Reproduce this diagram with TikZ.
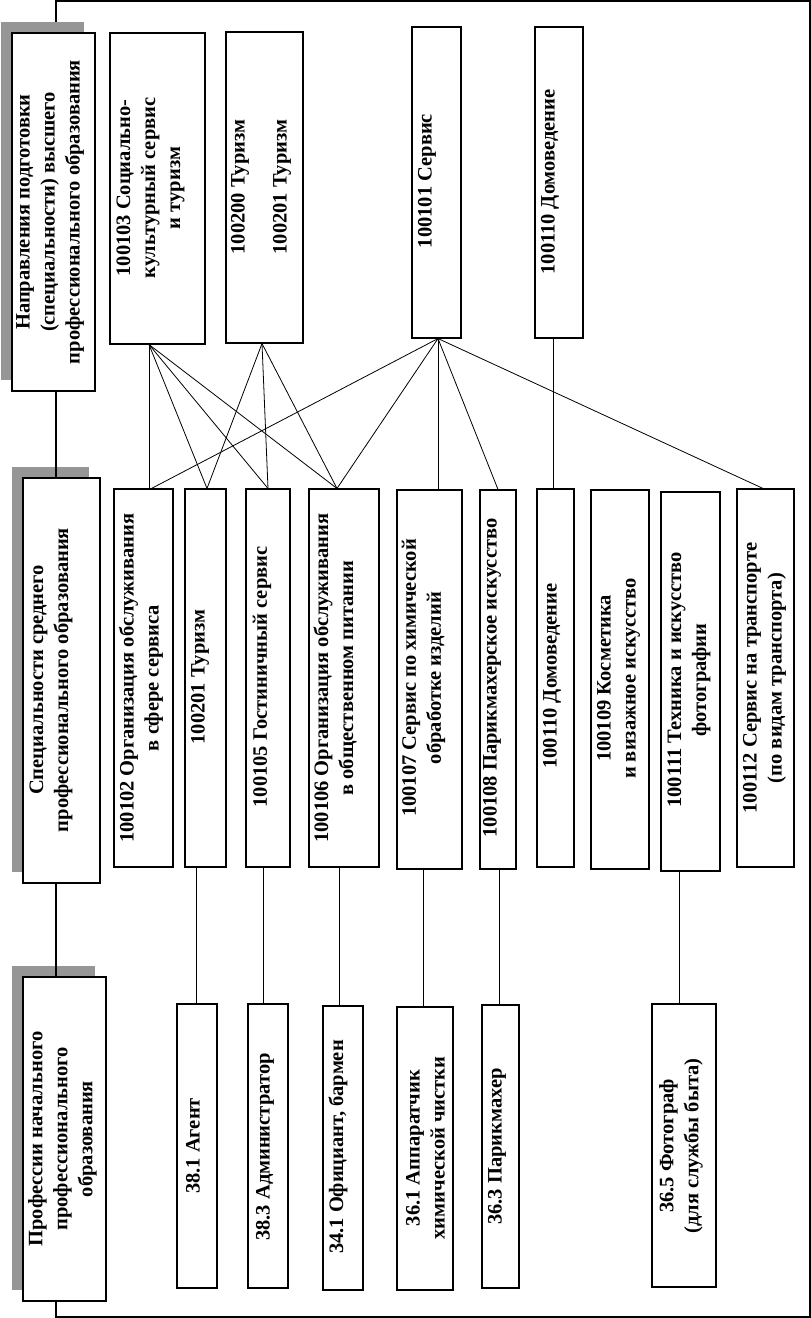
\documentclass[tikz,border=0pt]{standalone}
\usepackage{fontspec}
\setmainfont{Liberation Serif}
\usetikzlibrary{shadows}
\definecolor{shadowgray}{RGB}{150,150,150}
\begin{document}
\begin{tikzpicture}[x=1pt,y=-1pt,
  box/.style={draw, line width=1.1pt, fill=white, inner sep=0pt},
  hbox/.style={box, drop shadow={shadow xshift=-11pt, shadow yshift=11pt, fill=shadowgray, opacity=1}},
  txt/.style={rotate=90, font=\bfseries\fontsize{20.5}{25}\selectfont, align=center, inner sep=0pt},
  link/.style={line width=0.8pt}]
\useasboundingbox (0,0) rectangle (811,1318);
% outer frame
\draw[line width=1.1pt] (56,1) rectangle (810,1317);
% header boxes
\node[hbox, minimum width=83pt, minimum height=358pt] (h1) at (53.5,212) {};
\node[hbox, minimum width=77pt, minimum height=405pt] (h2) at (61.5,680.5) {};
\node[hbox, minimum width=83pt, minimum height=324pt] (h3) at (64.5,1139) {};
\node[txt] (h1t) at (50,212) {Направления подготовки\\(специальности) высшего\\профессионального образования};
\node[txt] (h2t) at (51,680) {Специальности среднего\\профессионального образования};
\node[txt] (h3t) at (62.5,1139) {Профессии начального\\профессионального\\образования};
% level 1
\node[box, minimum width=95pt, minimum height=311pt] (b1) at (157.5,188.5) {};
\node[box, minimum width=77pt, minimum height=311pt] (b2) at (264.5,187.5) {};
\node[box, minimum width=49pt, minimum height=311pt] (b3) at (436.5,182.5) {};
\node[box, minimum width=48pt, minimum height=311pt] (b4) at (559,182.5) {};
\node[txt] (b1t) at (150.5,188) {100103 Социально-\\культурный сервис\\и туризм};
\node[txt] (b2t) at (261,187) {100200 Туризм\\[17pt]100201 Туризм};
\node[txt] (b3t) at (427,181) {100101 Сервис};
\node[txt] (b4t) at (550,182) {100110 Домоведение};
% level 2
\node[box, minimum width=59pt, minimum height=378pt] (c1) at (143.5,678) {};
\node[box, minimum width=41pt, minimum height=378pt] (c2) at (205.5,678) {};
\node[box, minimum width=44pt, minimum height=378pt] (c3) at (268,678) {};
\node[box, minimum width=70pt, minimum height=378pt] (c4) at (344,678) {};
\node[box, minimum width=65pt, minimum height=379pt] (c5) at (429.5,679.5) {};
\node[box, minimum width=36pt, minimum height=379pt] (c6) at (498,679.5) {};
\node[box, minimum width=37pt, minimum height=378pt] (c7) at (555.5,678) {};
\node[box, minimum width=58pt, minimum height=379pt] (c8) at (620,679.5) {};
\node[box, minimum width=59pt, minimum height=379pt] (c9) at (690.5,681.5) {};
\node[box, minimum width=57pt, minimum height=378pt] (c10) at (765.5,678) {};
\node[txt] (c1t) at (141,678) {100102 Организация обслуживания\\в сфере сервиса};
\node[txt] (c2t) at (200,677) {100201 Туризм};
\node[txt] (c3t) at (262,677) {100105 Гостиничный сервис};
\node[txt] (c4t) at (335,678) {100106 Организация обслуживания\\в общественном питании};
\node[txt] (c5t) at (423.5,678) {100107 Сервис по химической\\обработке изделий};
\node[txt] (c6t) at (492,678) {100108 Парикмахерское искусство};
\node[txt] (c7t) at (552,676) {100110 Домоведение};
\node[txt] (c8t) at (618.5,678.5) {100109 Косметика\\и визажное искусство};
\node[txt] (c9t) at (689,680) {100111 Техника и искусство\\фотографии};
\node[txt] (c10t) at (764.5,678) {100112 Сервис на транспорте\\(по видам транспорта)};
% level 3
\node[box, minimum width=40pt, minimum height=284pt] (d1) at (197,1146) {};
\node[box, minimum width=40pt, minimum height=284pt] (d2) at (268,1146) {};
\node[box, minimum width=40pt, minimum height=284pt] (d3) at (343,1148) {};
\node[box, minimum width=56pt, minimum height=283pt] (d4) at (425,1148.5) {};
\node[box, minimum width=37pt, minimum height=283pt] (d5) at (500.5,1146.5) {};
\node[box, minimum width=64pt, minimum height=283pt] (d6) at (684,1145.5) {};
\node[txt] (d1t) at (193,1146) {38.1 Агент};
\node[txt] (d2t) at (265,1147) {38.3 Администратор};
\node[txt] (d3t) at (338,1147) {34.1 Официант, бармен};
\node[txt] (d4t) at (425.5,1148) {36.1 Аппаратчик\\химической чистки};
\node[txt] (d5t) at (497,1146.5) {36.3 Парикмахер};
\node[txt] (d6t) at (681,1146) {36.5 Фотограф\\(для службы быта)};
% header connectors
\draw[line width=1.1pt] ([xshift=2.5pt]h1.south) -- ([xshift=-5.5pt]h2.north);
\draw[line width=1.1pt] ([xshift=-5.5pt]h2.south) -- ([xshift=-8.5pt]h3.north);
% level 1 -> level 2
\draw[link] ([xshift=-8.5pt]b1.south) -- ([xshift=5.5pt]c1.north);
\draw[link] ([xshift=-8.5pt]b1.south) -- ([xshift=1.5pt]c2.north);
\draw[link] ([xshift=-8.5pt]b1.south) -- (c3.north);
\draw[link] ([xshift=-8.5pt]b1.south) -- ([xshift=-7pt]c4.north);
\draw[link] ([xshift=-2.5pt]b2.south) -- ([xshift=1.5pt]c2.north);
\draw[link] ([xshift=-2.5pt]b2.south) -- (c3.north);
\draw[link] ([xshift=-2.5pt]b2.south) -- ([xshift=-7pt]c4.north);
\draw[link] ([xshift=1.5pt]b3.south) -- ([xshift=8pt]c1.north);
\draw[link] ([xshift=1.5pt]b3.south) -- ([xshift=-7pt]c4.north);
\draw[link] ([xshift=1.5pt]b3.south) -- ([xshift=8.5pt]c5.north);
\draw[link] ([xshift=1.5pt]b3.south) -- (c6.north);
\draw[link] ([xshift=1.5pt]b3.south) -- ([xshift=-2.5pt]c10.north);
\draw[link] ([xshift=-6pt]b4.south) -- ([xshift=-2.5pt]c7.north);
% level 2 -> level 3
\draw[link] ([xshift=-9.5pt]c2.south) -- ([xshift=-1pt]d1.north);
\draw[link] ([xshift=-5pt]c3.south) -- ([xshift=-5pt]d2.north);
\draw[link] ([xshift=-5pt]c4.south) -- ([xshift=-4pt]d3.north);
\draw[link] ([xshift=-6.5pt]c5.south) -- ([xshift=-2pt]d4.north);
\draw[link] ([xshift=1pt]c6.south) -- ([xshift=-1.5pt]d5.north);
\draw[link] ([xshift=-11.5pt]c9.south) -- ([xshift=-5pt]d6.north);
\end{tikzpicture}
\end{document}
